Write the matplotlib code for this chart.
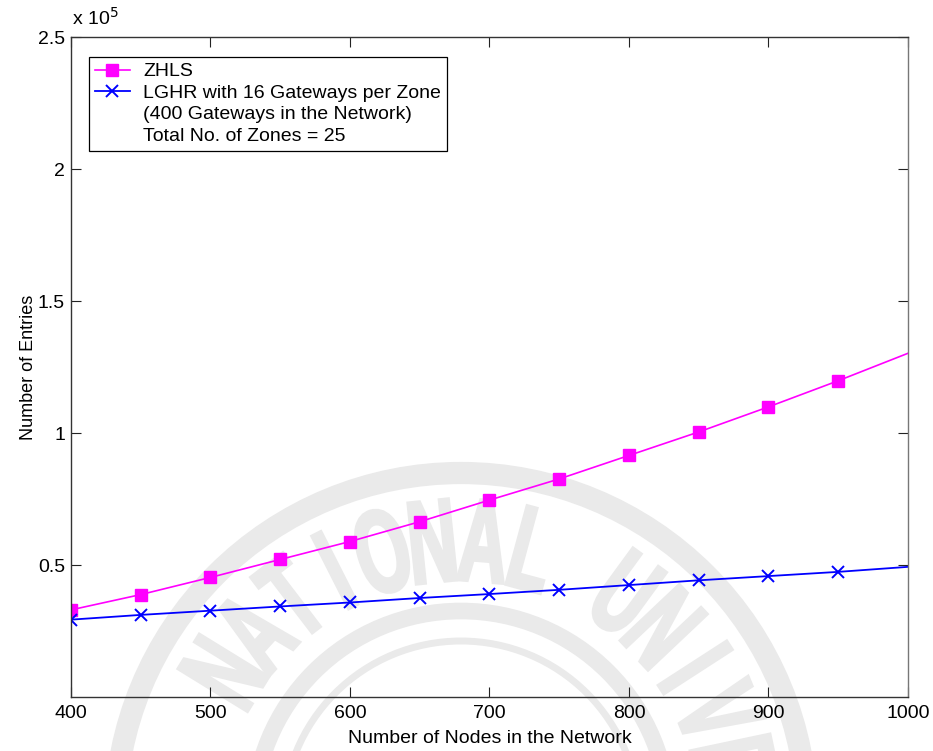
import numpy as np
import matplotlib
matplotlib.use("Agg")
import matplotlib.pyplot as plt
from matplotlib.lines import Line2D
from matplotlib.patches import Circle, PathPatch
from matplotlib.textpath import TextPath
from matplotlib.font_manager import FontProperties
from matplotlib.transforms import Affine2D

plt.rcParams['font.family'] = ['Liberation Sans', 'DejaVu Sans']
plt.rcParams['font.size'] = 14

# number of nodes in the network
nodes = [400, 450, 500, 550, 600, 650, 700, 750, 800, 850, 900, 950, 1000]
# routing table entries
zhls_entries = [33000, 38800, 45300, 52100, 58900, 66400, 74600, 82600, 91500,
                100400, 109900, 119800, 130200]
lghr_entries = [29300, 31100, 32700, 34300, 35800, 37500, 39000, 40600, 42400,
                44200, 45800, 47400, 49300]

x_ticks = [400, 500, 600, 700, 800, 900, 1000]
y_ticks = [0.5, 1, 1.5, 2, 2.5]
y_tick_labels = ["0.5", "1", "1.5", "2", "2.5"]

W, H = 933, 751
fig = plt.figure(figsize=(W / 100, H / 100), dpi=100)

# faint university seal behind the plot (pixel coordinates, y up)
bg = fig.add_axes([0, 0, 1, 1], zorder=0)
bg.set_xlim(0, W)
bg.set_ylim(0, H)
bg.axis("off")
seal = "#eaeaea"
cx, cy = 461, -68
bg.add_patch(Circle((cx, cy), 346, fill=False, lw=16, ec=seal))
bg.add_patch(Circle((cx, cy), 208, fill=False, lw=12, ec=seal))
bg.add_patch(Circle((cx, cy), 178, fill=False, lw=5, ec=seal))
fp = FontProperties(family="Liberation Sans", weight="bold")
word = "NATIONAL UNIVERSITY"
step = 10.5
for i, ch in enumerate(word):
    if ch == " ":
        continue
    a = 148.4 - step * i
    tp = TextPath((0, 0), ch, size=118, prop=fp)
    bb = tp.get_extents()
    tr = (Affine2D()
          .translate(-(bb.x0 + bb.x1) / 2, -(bb.y0 + bb.y1) / 2)
          .scale(0.58, 1.0)
          .rotate_deg(a - 90)
          .translate(cx + 279 * np.cos(np.radians(a)),
                     cy + 279 * np.sin(np.radians(a))))
    bg.add_patch(PathPatch(tr.transform_path(tp), fc=seal, ec=seal, lw=2.5))

ax = fig.add_axes([71 / W, 1 - 697 / H, (908 - 71) / W, (697 - 37) / H], zorder=1)
ax.set_facecolor("none")

x = np.array(nodes)
ax.plot(x, np.array(zhls_entries) / 1e5, color="#ff00ff", lw=1.2,
        marker="s", ms=8.5, markevery=list(range(12)), label="ZHLS")
ax.plot(x, np.array(lghr_entries) / 1e5, color="#0000ff", lw=1.3,
        marker="x", ms=9, mew=1.4, markevery=list(range(12)),
        label="LGHR with 16 Gateways per Zone")

ax.set_xlim(400, 1000)
ax.set_ylim(0, 2.5)
ax.set_xticks(x_ticks)
ax.set_yticks(y_ticks)
ax.set_yticklabels(y_tick_labels)
ax.tick_params(direction="in", length=7, top=True, right=True,
               labelsize=14, color="#222222")
ax.tick_params(axis="x", pad=5.5)
ax.tick_params(axis="y", pad=4.3)
for s in ax.spines.values():
    s.set_color("#333333")
    s.set_linewidth(1.0)
ax.spines["right"].set_color("#777777")

ax.set_xlabel("Number of Nodes in the Network", fontsize=14, labelpad=6)
ax.set_ylabel("Number of Entries", fontsize=13)
ax.yaxis.set_label_coords(-0.041, 0.5)
ax.text(0.001, 1.012, r"x 10$^5$", transform=ax.transAxes, fontsize=14,
        ha="left", va="bottom")

blank = Line2D([], [], linestyle="none", marker="none")
handles, labels = ax.get_legend_handles_labels()
handles += [blank, blank]
labels += ["(400 Gateways in the Network)", "Total No. of Zones = 25"]
leg = ax.legend(handles, labels, loc="upper left",
                bbox_to_anchor=(18 / 837, (697 - 57) / 660), borderaxespad=0,
                fontsize=14, handlelength=1.8, handletextpad=0.7,
                labelspacing=0.2, borderpad=0.3, fancybox=False,
                edgecolor="black", framealpha=1)
leg.get_frame().set_linewidth(0.9)

fig.savefig("out.png", dpi=100)
